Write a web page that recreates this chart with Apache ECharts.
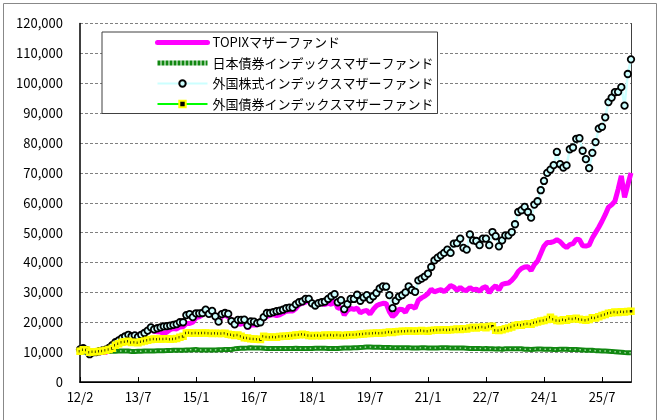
<!DOCTYPE html>
<html><head><meta charset="utf-8">
<script src="https://cdn.jsdelivr.net/npm/echarts@6/dist/echarts.min.js"></script>
<style>html,body{margin:0;padding:0;background:#fff}#c{width:663px;height:420px}</style>
</head><body><div id="c"></div>
<script>
const seriesNames = ['TOPIXマザーファンド', '日本債券インデックスマザーファンド', '外国株式インデックスマザーファンド', '外国債券インデックスマザーファンド'];
const tickLabels = ['12/2', '13/7', '15/1', '16/7', '18/1', '19/7', '21/1', '22/7', '24/1', '25/7'];
const topix = [
  11150, 11400, 10730, 9600, 10280, 9830, 9760, 9840, 9910, 10430, 11480,
  12780, 13260, 14080, 15600, 15440, 15410, 15380, 15040, 16240, 16240, 17110, 17710,
  16960, 16830, 16720, 16150, 16710, 17560, 17920, 17750, 18430, 18530, 19600, 19560,
  20020, 21550, 21830, 22530, 23670, 23060, 23470, 21750, 19970, 22050, 22360, 21890,
  20690, 18740, 19460, 19360, 19930, 17990, 19100, 19200, 19100, 20130, 21230, 21950,
  22360, 22560, 22240, 22510, 23050, 23700, 23780, 23770, 24620, 25950, 26340, 26720,
  27540, 26520, 25740, 26660, 26210, 25950, 26300, 26030, 27260, 24690, 25010, 22410,
  23980, 24590, 24340, 24740, 23130, 23730, 23940, 22720, 24280, 25510, 26010, 26330,
  26270, 23570, 21890, 22840, 24380, 24300, 23340, 25260, 25350, 24630, 27360, 28160,
  28750, 29640, 31070, 30180, 30560, 30890, 30230, 31160, 32280, 31820, 30660, 31670,
  30790, 30650, 31620, 30860, 31070, 30390, 31530, 31900, 29820, 31350, 32260, 30750,
  32690, 32980, 33150, 34040, 35250,
  37000, 38000, 38500, 38600, 37300, 39300, 40500, 43000, 45500, 46700, 46700, 47000,
  47600, 47000, 45800, 45000, 46000, 46300, 47800, 47600, 45600, 45500, 45800, 48200,
  50000, 51800, 53800, 56000, 58500, 59300, 60500, 64500, 69000, 61800, 66000, 70000
];
const jpBond = [
  10000, 10000, 10050, 10100, 10150, 10150, 10200, 10200, 10250, 10250, 10300, 10300,
  10350, 10350, 10400, 10350, 10200, 10250, 10300, 10300, 10350, 10400, 10400, 10400,
  10450, 10500, 10500, 10550, 10550, 10600, 10600, 10650, 10650, 10700, 10750, 10800,
  10850, 10750, 10750, 10750, 10700, 10700, 10750, 10800, 10800, 10850, 10850, 10900,
  11100, 11200, 11300, 11300, 11350, 11450, 11400, 11350, 11400, 11300, 11200, 11200,
  11200, 11250, 11250, 11250, 11250, 11250, 11250, 11300, 11250, 11250, 11250, 11250,
  11250, 11300, 11300, 11300, 11300, 11250, 11200, 11200, 11200, 11300, 11350, 11400,
  11400, 11450, 11500, 11550, 11600, 11700, 11750, 11650, 11600, 11600, 11550, 11550,
  11550, 11500, 11450, 11450, 11450, 11450, 11450, 11400, 11400, 11400, 11450, 11450,
  11400, 11350, 11400, 11400, 11450, 11450, 11450, 11400, 11400, 11400, 11400, 11350,
  11300, 11250, 11200, 11200, 11200, 11150, 11200, 11150, 11100, 11050, 11100, 10950,
  11100, 11150, 11150, 11150, 11150, 11100, 11000, 10950, 10900, 11000, 11050, 11050,
  11000, 11000, 10950, 10900, 10900, 10950, 10950, 10950, 10900, 10850, 10850, 10800,
  10750, 10650, 10650, 10600, 10500, 10450, 10400, 10350, 10300, 10250, 10150, 10050,
  9950, 9850, 9800, 9750
];
const fgnStock = [
  10900, 11300, 10700, 9300, 9900, 10000, 10300, 10600, 10800, 11400, 12300, 13300,
  13900, 14700, 15300, 15800, 15300, 15600, 15100, 15800, 16400, 17200, 18300, 17600,
  18000, 18300, 18600, 18700, 18900, 19100, 19400, 20000, 20000, 22400, 22700, 21700,
  23000, 23000, 23100, 24200, 22800, 23800, 22000, 20200, 22700, 23100, 22800, 20400,
  19300, 20800, 20800, 20900, 18900, 20300, 20200, 19700, 20000, 21700, 23100, 23100,
  23400, 23700, 23900, 24200, 24700, 24900, 24900, 26000, 26700, 27000, 27800, 27800,
  26300, 25600, 26400, 26700, 26900, 27800, 28700, 29400, 26700, 27400, 24400, 26100,
  27800, 27800, 29200, 27200, 28300, 29100, 27600, 28700, 29800, 31300, 32000, 31900,
  29100, 24700, 27200, 28600, 29100, 30000, 32000, 30800, 30200, 34000, 34600, 35300,
  36300, 38500, 40700, 41600, 42400, 43200, 44300, 43200, 46300, 46500, 48000, 44900,
  44300, 49400, 47400, 47200, 45800, 48000, 48000, 45800, 50200, 48800, 45400, 47400,
  49100, 49100, 50200, 52800, 56900, 57500, 58600, 56900, 55000, 59400, 60500, 64200,
  67300, 70000, 71100, 72600, 77000, 72900, 71800, 72500, 77900, 78500, 81400, 81600,
  77400, 74600, 71600, 76700, 80300, 84800, 85400, 88600, 93700, 95200, 97000, 97100,
  98700, 92500, 103100, 108000
];
const fgnBond = [
  10300, 10800, 10700, 10000, 10100, 10100, 10300, 10400, 10600, 10900, 11300, 12300,
  12800, 13300, 13500, 13600, 13200, 13300, 13100, 13500, 13700, 14000, 14200, 14400,
  14300, 14400, 14400, 14500, 14300, 14400, 14600, 15000, 15300, 16400, 16500, 16300,
  16400, 16300, 16400, 16400, 16300, 16200, 16300, 16200, 16200, 16300, 16000, 15800,
  15600, 15700, 15300, 14800, 14700, 14500, 14400, 14300, 14200, 15300, 15100, 15000,
  15100, 15000, 15200, 15300, 15300, 15500, 15600, 15700, 15800, 16000, 15800, 15600,
  15500, 15600, 15600, 15500, 15700, 15600, 15700, 15600, 15700, 15600, 15600, 15700,
  15800, 15800, 15900, 16000, 16100, 16200, 16200, 16300, 16400, 16300, 16400, 16600,
  16700, 16600, 16800, 16900, 17000, 17000, 17100, 17100, 17000, 17100, 17200, 17100,
  17000, 17200, 17300, 17400, 17400, 17500, 17400, 17500, 17600, 17700, 17600, 17800,
  17700, 18100, 18300, 18100, 18300, 18400, 18200, 18600, 18700, 17300, 17200, 17500,
  17800, 18100, 18400, 18900, 19200, 19000, 19300, 19500, 19300, 19800, 20100, 20400,
  20600, 20900, 21700, 21000, 20600, 20500, 20800, 20700, 21200, 21100, 21300, 21000,
  20800, 20700, 20900, 21500, 21400, 21800, 22300, 22600, 23000, 23200, 23400, 23300,
  23500, 23400, 23600, 23700
];

const categories = [];
for (let i = 0; i < topix.length; i++) {
  const m = 1 + i;
  categories.push((2012 + Math.floor(m / 12)) + '/' + (m % 12 + 1));
}
const FONT = '"Noto Sans CJK JP", "Liberation Sans", sans-serif';
const fmt = v => String(v).replace(/\B(?=(\d{3})+(?!\d))/g, ',');

const chart = echarts.init(document.getElementById('c'), null, {renderer: 'canvas'});
chart.setOption({
  animation: false,
  backgroundColor: '#fff',
  textStyle: {fontFamily: FONT},
  grid: {left: 80, right: 32, top: 23.5, bottom: 38, containLabel: false},
  legend: {
    data: [
      {name: seriesNames[0], itemStyle: {opacity: 0}, lineStyle: {width: 5, cap: 'round', color: '#FF00FF'}},
      {name: seriesNames[1], itemStyle: {opacity: 0}, lineStyle: {width: 5, color: '#118811', type: [3, 1]}},
      {name: seriesNames[2]},
      {name: seriesNames[3]}
    ],
    orient: 'vertical',
    left: 102, top: 32,
    padding: [4, 4, 3, 53],
    itemGap: 7.5,
    itemWidth: 50, itemHeight: 8,
    backgroundColor: '#fff',
    borderColor: '#404040', borderWidth: 1,
    selectedMode: false,
    textStyle: {fontSize: 13, color: '#000', fontFamily: FONT}
  },
  xAxis: [{
    type: 'category', data: categories, boundaryGap: false,
    axisLine: {lineStyle: {color: '#000', width: 1.5}},
    axisTick: {show: true, inside: true, length: 5, interval: 17, lineStyle: {color: '#000'}},
    axisLabel: {interval: 17, margin: 9, fontSize: 13, color: '#000', fontFamily: FONT,
      formatter: (v, i) => tickLabels[i / 18] || ''},
    splitLine: {show: false}
  }, {
    type: 'category', data: categories, boundaryGap: false, position: 'top',
    axisLine: {lineStyle: {color: '#000', width: 1}},
    axisTick: {show: false}, axisLabel: {show: false}, splitLine: {show: false}
  }],
  yAxis: [{
    type: 'value', min: 0, max: 120000, interval: 10000,
    axisLine: {show: true, lineStyle: {color: '#000', width: 1.5}},
    axisTick: {show: false},
    axisLabel: {margin: 17, fontSize: 13, color: '#000', fontFamily: FONT, formatter: fmt},
    splitLine: {lineStyle: {color: '#808080', type: [3, 2], width: 1}}
  }, {
    type: 'value', min: 0, max: 120000, interval: 10000, position: 'right',
    axisLine: {show: true, lineStyle: {color: '#404040', width: 1}},
    axisTick: {show: false}, axisLabel: {show: false}, splitLine: {show: false}
  }],
  series: [
    {name: seriesNames[0], type: 'line', data: topix, symbol: 'none',
      lineStyle: {color: '#FF00FF', width: 5}, itemStyle: {color: '#FF00FF'}},
    {name: seriesNames[1], type: 'line', data: jpBond, symbol: 'none',
      lineStyle: {color: '#118811', width: 5}, itemStyle: {color: '#118811'}},
    {name: 'jpBondDots', type: 'line', data: jpBond, symbol: 'none', silent: true,
      lineStyle: {color: '#a6d6a6', width: 1.5, type: [1.5, 3.5]}},
    {name: seriesNames[2], type: 'line', data: fgnStock, symbol: 'circle', symbolSize: 6.5,
      showAllSymbol: true,
      lineStyle: {color: '#CCFFFF', width: 2.5},
      itemStyle: {color: '#CCFFFF', borderColor: '#000', borderWidth: 1.8}},
    {name: seriesNames[3], type: 'line', data: fgnBond, symbol: 'rect', symbolSize: 5,
      showAllSymbol: true,
      lineStyle: {color: '#00FF00', width: 2.5},
      itemStyle: {color: '#000', borderColor: '#FFFF00', borderWidth: 2.5}}
  ],
  graphic: [{
    type: 'rect', silent: true, z: 100,
    shape: {x: 3.5, y: 3.5, width: 653, height: 430},
    style: {fill: 'none', stroke: '#888', lineWidth: 1}
  }]
});
</script></body></html>
